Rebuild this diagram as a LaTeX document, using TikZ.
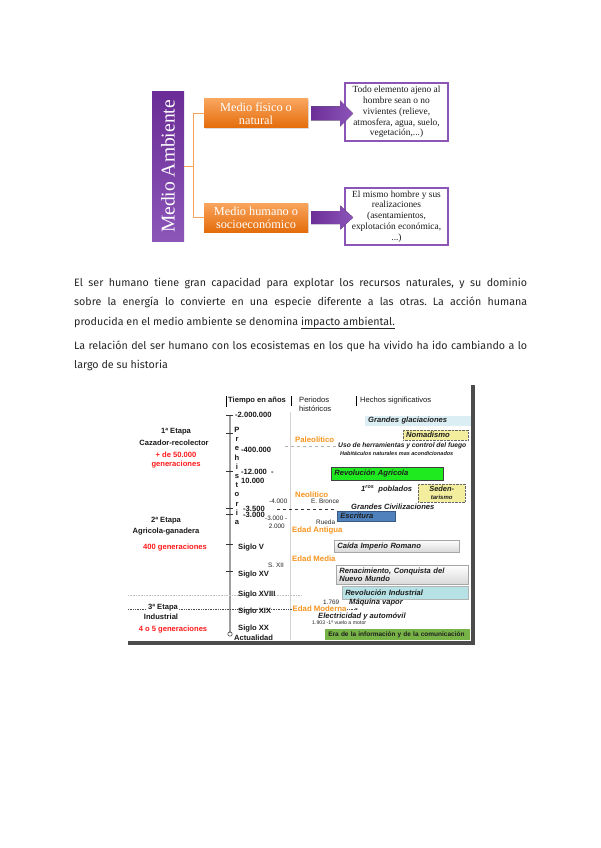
\documentclass[tikz,border=0pt]{standalone}
\usepackage{fontspec}
\setmainfont{Liberation Serif}
\newfontfamily\parafont{Fira Sans}
\newfontfamily\arialfont{Liberation Sans}
\usetikzlibrary{shadows,arrows.meta,calc}
\frenchspacing
\definecolor{purpA}{HTML}{6A2C96}
\definecolor{purpB}{HTML}{8C55B8}
\definecolor{orgA}{HTML}{F9A55E}
\definecolor{orgB}{HTML}{E46C0A}
\definecolor{brk}{HTML}{F7A35C}
\definecolor{glac}{HTML}{DBEEF4}
\definecolor{nomad}{HTML}{F2EE9E}
\definecolor{agri}{HTML}{1FEA1F}
\definecolor{escr}{HTML}{4F81BD}
\definecolor{indus}{HTML}{B6E2E6}
\definecolor{infoc}{HTML}{77B347}
\definecolor{perio}{HTML}{F7941D}
\definecolor{redt}{HTML}{FF1A1A}
\definecolor{evtxt}{HTML}{1E1E1E}
\tikzset{
  mabox/.style={draw=none, top color=purpA, bottom color=purpB, inner sep=0pt},
  orgbox/.style={top color=orgA, bottom color=orgB, draw=none, inner sep=0pt,
    text=white, align=center, font=\fontsize{12.3}{13}\selectfont,
    drop shadow={opacity=0.25, shadow xshift=1pt, shadow yshift=-1pt}},
  descbox/.style={draw=purpB, line width=1.2pt, fill=white, inner sep=0pt, align=center,
    font=\fontsize{9.4}{10.8}\selectfont, text=black!90},
  brkline/.style={draw=brk, line width=0.9pt},
  arrowfill/.style={left color=purpA, right color=purpB, draw=none},
  paraline/.style={anchor=base west, inner sep=0pt, font=\parafont\fontsize{10.7}{12}\selectfont, text=black!85},
  tl/.style={anchor=west, inner sep=0pt, font=\arialfont\bfseries\fontsize{7.6}{9}\selectfont, text=black!90},
  tlc/.style={inner sep=0pt, font=\arialfont\bfseries\fontsize{7.6}{9}\selectfont, text=black!90, align=center},
  tlred/.style={inner sep=0pt, font=\arialfont\bfseries\fontsize{7.6}{9}\selectfont, text=redt},
  tlper/.style={anchor=west, inner sep=0pt, font=\arialfont\bfseries\fontsize{7.8}{9}\selectfont, text=perio},
  tlsm/.style={anchor=west, inner sep=0pt, font=\arialfont\fontsize{6.4}{8}\selectfont, text=black!85},
  evt/.style={anchor=west, inner sep=0pt, font=\arialfont\bfseries\itshape\fontsize{7.6}{8}\selectfont, text=evtxt},
  evbox/.style={anchor=west, inner ysep=0pt, inner xsep=3pt, align=left,
    font=\arialfont\bfseries\itshape\fontsize{7.6}{8.2}\selectfont, text=evtxt},
  tick/.style={draw=black!80, line width=0.6pt},
}
\begin{document}
\begin{tikzpicture}[x=1pt,y=-1pt]
\useasboundingbox (0,0) rectangle (600,848);
\fill[white] (0,0) rectangle (600,848);

% ---------- Top concept diagram ----------
\node[mabox, minimum width=32pt, minimum height=149pt] (ma) at (168,166.5) {};
\node[rotate=90, text=white, inner sep=0pt, font=\fontsize{19.5}{20}\selectfont] (matxt) at (ma.center) {Medio Ambiente};
\node[orgbox, minimum width=104pt, minimum height=29pt] (mf) at (256,113.5) {Medio físico o\\natural};
\node[orgbox, minimum width=104pt, minimum height=29pt] (mh) at (256,217.5) {Medio humano o\\socioeconómico};
\node[descbox, minimum width=103pt, minimum height=58pt] (da) at (396.5,112) {Todo elemento ajeno al\\hombre sean o no\\vivientes (relieve,\\atmosfera, agua, suelo,\\vegetación,...)};
\node[descbox, minimum width=103pt, minimum height=57pt] (db) at (396.5,216.5) {El mismo hombre y sus\\realizaciones\\(asentamientos,\\explotación económica,\\...)};
\draw[brkline] (ma.east) -- ++(10,0) coordinate (bm);
\draw[brkline] (mf.west) -- ++(-10,0) |- (mh.west);
\fill[arrowfill] (mf.east) ++(3,-7) -- ++(29,0) -- ++(0,-6) -- ++(13,13) -- ++(-13,13) -- ++(0,-6) -- ++(-29,0) -- cycle;
\fill[arrowfill] (mh.east) ++(3,-6.5) -- ++(29,0) -- ++(0,-5.5) -- ++(13,12) -- ++(-13,12) -- ++(0,-5.5) -- ++(-29,0) -- cycle;

% ---------- Paragraphs ----------
\node[paraline] (p1) at (74,286) {\makebox[453pt][s]{El ser humano tiene gran capacidad para explotar los recursos naturales, y su dominio}};
\node[paraline] (p2) at (74,305.5) {\makebox[453pt][s]{sobre la energía lo convierte en una especie diferente a las otras. La acción humana}};
\node[paraline] (p3) at (74,325) {producida en el medio ambiente se denomina \underline{impacto ambiental.}};
\node[paraline] (p4) at (74,349) {\makebox[453pt][s]{La relación del ser humano con los ecosistemas en los que ha vivido ha ido cambiando a lo}};
\node[paraline] (p5) at (74,368.5) {largo de su historia};

% ---------- Timeline picture ----------
\fill[black!70] (471,385) rectangle (474.5,644.5);
\fill[black!70] (128,641) rectangle (474.5,644.5);

% headers
\draw[line width=1pt] (226,396) -- (226,407);
\draw[line width=1pt] (291,396) -- (291,406);
\draw[line width=1pt] (356,396) -- (356,406);
\node[tl] (h1) at (228,401) {Tiempo en años};
\node[tl, anchor=north west, align=left, font=\arialfont\fontsize{7.6}{9}\selectfont] (h2) at (299,397) {Periodos\\históricos};
\node[tl, font=\arialfont\fontsize{7.6}{9}\selectfont] (h3) at (360,401) {Hechos significativos};

% axis
\draw[gray!75, line width=1.8pt] (230,415) -- (230,633);
\draw[gray!35, line width=0.5pt] (290,412) -- (290,640);
\foreach \yy in {415,433,471,508,514,544,571} {\draw[tick] (226,\yy) -- (233,\yy);}
\draw[black!70, line width=0.6pt] (230,634) circle (2.2);

% dashed / dotted lines
\draw[gray!60, dashed, line width=0.7pt] (285,446) -- (341,446);
\draw[black!80, dashed, line width=0.8pt] (277,509) -- (336,509);
\draw[gray!50, densely dotted, line width=0.6pt] (128,595) -- (301,595);
\draw[black!70, densely dotted, line width=0.7pt, -{Stealth[length=3pt]}] (128,609) -- (358,609);

% time column
\node[tl] (t1) at (235,415) {-2.000.000};
\node[tlc, anchor=north, font=\arialfont\bfseries\fontsize{7.6}{9.2}\selectfont] (pre) at (237,427) {P\\r\\e\\h\\i\\s\\t\\o\\r\\i\\a};
\node[tl] (t2) at (241,450) {-400.000};
\node[tl, anchor=north west, align=left] (t3) at (241,469) {-12.000 \ -\\10.000};
\node[tl] (t4) at (243,508.5) {-3.500};
\node[tl] (t5) at (243,514.5) {-3.000};
\node[tl] (s5) at (238,548) {Siglo V};
\node[tl] (s15) at (238,575) {Siglo XV};
\node[tl] (s18) at (238,595) {Siglo XVIII};
\node[tl] (s19) at (238,612) {Siglo XIX};
\node[tl] (s20) at (238,629) {Siglo XX};
\node[tl] (act) at (234,638) {Actualidad};

% stages
\node[tlc] (e1) at (176,432) {1ª Etapa};
\node[tlc] (e1b) at (174,443) {Cazador-recolector};
\node[tlred, align=center] (e1r) at (176,460.5) {+ de 50.000\\generaciones};
\node[tlc] (e2) at (166,521) {2ª Etapa};
\node[tlc] (e2b) at (166,532) {Agricola-ganadera};
\node[tlred] (e2r) at (175,548) {400 generaciones};
\node[tlc, fill=white, inner xsep=1pt] (e3) at (163,608) {3ª Etapa};
\node[tlc] (e3b) at (161,617) {Industrial};
\node[tlred] (e3r) at (173,630) {4 o 5 generaciones};

% periods
\node[tlper] (pa) at (295,440) {Paleolítico};
\node[tlper] (ne) at (295,495) {Neolítico};
\node[tlper] (ea) at (292,530) {Edad Antigua};
\node[tlper] (em) at (292,559) {Edad Media};
\node[tlper, fill=white, inner xsep=0.5pt] (emo) at (292,609) {Edad Moderna};
\node[tlsm] (m4) at (269,501) {-4.000};
\node[tlsm] (eb) at (311,501) {E. Bronce};
\node[tlsm, anchor=north west, align=left] (m3) at (265,516) {-3.000 -\\\ \ 2.000};
\node[tlsm] (ru) at (316,522) {Rueda};
\node[tlsm] (sx) at (268,565) {S. XII};
\node[tlsm] (y17) at (323,602) {1.769};

% events
\node[evbox, fill=glac, minimum width=106pt, text width=100pt, minimum height=10.5pt] (gg) at (365,421) {Grandes glaciaciones};
\node[evbox, fill=nomad, draw=black!60, densely dotted, minimum width=65pt, text width=59pt, minimum height=10pt] (no) at (403,435) {Nomadismo};
\node[evt, font=\arialfont\bfseries\itshape\fontsize{6.7}{7}\selectfont] (uh) at (338,446) {Uso de herramientas y control del fuego};
\node[evt, font=\arialfont\bfseries\itshape\fontsize{5.5}{6}\selectfont] (hn) at (340,454) {Habitáculos naturales mas acondicionados};
\node[evbox, fill=agri, draw=black!75, line width=0.8pt, minimum width=112pt, text width=106pt, minimum height=13pt] (ra) at (331,473.5) {Revolución Agrícola};
\node[evt] (po) at (361,489) {1\textsuperscript{ros}\ \ poblados};
\node[evbox, fill=nomad, draw=black!60, densely dotted, minimum width=47pt, text width=41pt, minimum height=18pt, align=center, font=\arialfont\bfseries\itshape\fontsize{7.4}{7.6}\selectfont] (se) at (418,493) {Seden-\\{\fontsize{6}{6}\selectfont tarismo}};
\node[evt] (gc) at (351,507) {Grandes Civilizaciones};
\node[evbox, fill=escr, draw=escr!70!black, line width=0.6pt, minimum width=58pt, text width=52pt, minimum height=10pt] (es) at (337,516) {Escritura};
\node[evbox, top color=white, bottom color=gray!30, draw=gray!70, line width=0.6pt, minimum width=125pt, text width=119pt, minimum height=12pt,
  drop shadow={opacity=0.5, shadow xshift=1pt, shadow yshift=-1pt}] (ci) at (334,546) {Caída Imperio Romano};
\node[evbox, top color=white, bottom color=gray!30, draw=gray!70, line width=0.6pt, minimum width=132pt, text width=126pt, minimum height=19pt,
  drop shadow={opacity=0.6, shadow xshift=1pt, shadow yshift=-1pt}] (rc) at (336,574.5) {Renacimiento, Conquista del\\Nuevo Mundo};
\node[evbox, fill=indus, draw=gray!60, line width=0.5pt, minimum width=126pt, text width=120pt, minimum height=13pt,
  drop shadow={opacity=0.5, shadow xshift=1pt, shadow yshift=-1pt}] (ri) at (342,592.5) {Revolución Industrial};
\node[evt] (mv) at (349,602) {Máquina vapor};
\node[evt] (ea2) at (318,616) {Electricidad y automóvil};
\node[tlsm, font=\arialfont\fontsize{5.2}{6}\selectfont] (vm) at (312,623) {1.903 -1º vuelo a motor};
\node[evbox, fill=infoc, minimum width=145pt, text width=143pt, inner xsep=1pt, minimum height=11pt,
  font=\arialfont\bfseries\fontsize{6.5}{7}\selectfont] (ei) at (325,634.5) {\mbox{ Era de la información y de la comunicación}};
\end{tikzpicture}
\end{document}
